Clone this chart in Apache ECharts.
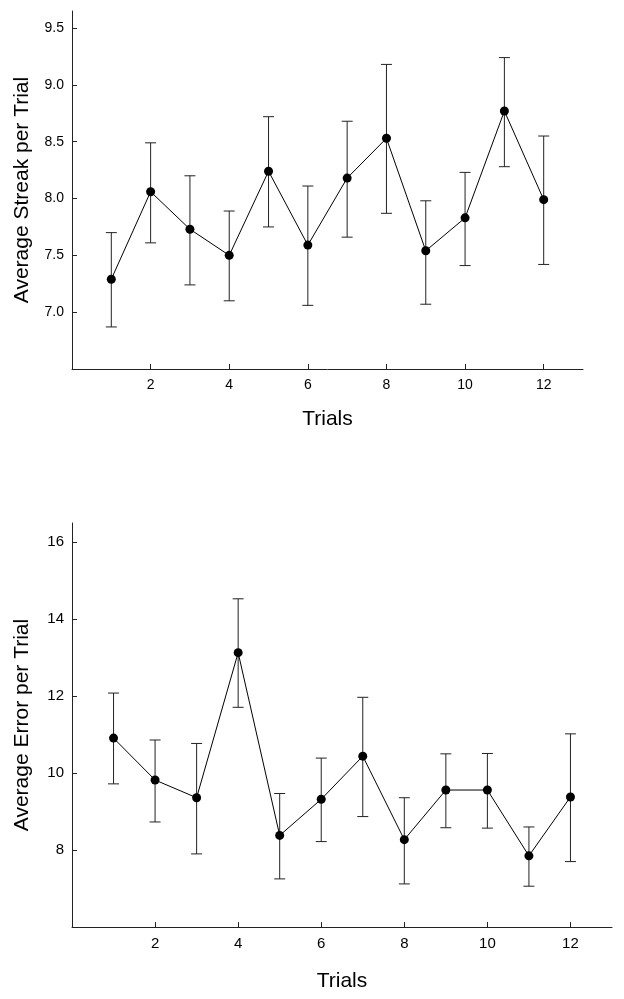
<!DOCTYPE html>
<html>
<head>
<meta charset="utf-8">
<script src="https://cdn.jsdelivr.net/npm/echarts@6/dist/echarts.min.js"></script>
<style>
html,body{margin:0;padding:0;background:#fff;}
#chart{width:624px;height:999px;}
</style>
</head>
<body>
<div id="chart"></div>
<script>
// ---- data ----
var trials = [1,2,3,4,5,6,7,8,9,10,11,12];

var streakMean  = [7.29, 8.06, 7.73, 7.50, 8.24, 7.59, 8.18, 8.53, 7.54, 7.83, 8.77, 7.99];
var streakUpper = [7.70, 8.49, 8.20, 7.89, 8.72, 8.11, 8.68, 9.18, 7.98, 8.23, 9.24, 8.55];
var streakLower = [6.87, 7.61, 7.24, 7.10, 7.75, 7.06, 7.66, 7.87, 7.07, 7.41, 8.28, 7.42];

var errorMean  = [10.91, 9.82, 9.36, 13.13, 8.38, 9.32, 10.44, 8.27, 9.56, 9.56, 7.85, 9.38];
var errorUpper = [12.08, 10.86, 10.77, 14.53, 9.47, 10.39, 11.97, 9.36, 10.50, 10.51, 8.60, 11.02];
var errorLower = [9.72, 8.73, 7.90, 11.71, 7.25, 8.22, 8.87, 7.12, 8.58, 8.57, 7.06, 7.70];

var xTickValues = [2,4,6,8,10,12];
var streakTickValues = [7.0, 7.5, 8.0, 8.5, 9.0, 9.5];
var errorTickValues = [8, 10, 12, 14, 16];

var streakTitle = 'Average Streak per Trial';
var errorTitle = 'Average Error per Trial';
var xTitle = 'Trials';

// ---- build ----
var FONT = '"Liberation Sans", Arial, sans-serif';
var AXIS_COLOR = '#222';

function pairs(xs, ys){ return xs.map(function(x,i){ return [x, ys[i]]; }); }
function triples(xs, lo, hi){ return xs.map(function(x,i){ return [x, lo[i], hi[i]]; }); }

function errorSeries(idx, data){
  return {
    type: 'custom',
    xAxisIndex: idx, yAxisIndex: idx,
    data: data,
    z: 2,
    silent: true,
    renderItem: function(params, api){
      var x = api.value(0);
      var p1 = api.coord([x, api.value(1)]);
      var p2 = api.coord([x, api.value(2)]);
      var hw = 5.5;
      var style = {stroke: '#222', lineWidth: 1, fill: null};
      return {
        type: 'group',
        children: [
          {type:'line', shape:{x1:p1[0], y1:p1[1], x2:p2[0], y2:p2[1]}, style: style},
          {type:'line', shape:{x1:p1[0]-hw, y1:p1[1], x2:p1[0]+hw, y2:p1[1]}, style: style},
          {type:'line', shape:{x1:p2[0]-hw, y1:p2[1], x2:p2[0]+hw, y2:p2[1]}, style: style}
        ]
      };
    },
    encode: {x: 0, y: [1,2]}
  };
}

function lineSeries(idx, data){
  return {
    type: 'line',
    xAxisIndex: idx, yAxisIndex: idx,
    data: data,
    z: 3,
    symbol: 'circle',
    symbolSize: 9,
    itemStyle: {color: '#000'},
    lineStyle: {color: '#000', width: 1},
    animation: false,
    silent: true
  };
}

function xAxis(idx, gap, fs){
  return {
    type: 'value', gridIndex: idx, min: 0, max: 13,
    name: xTitle, nameLocation: 'middle', nameGap: gap,
    nameTextStyle: {fontFamily: FONT, fontSize: 21, color: '#000'},
    axisLine: {show: true, onZero: false, lineStyle: {color: AXIS_COLOR, width: 1}},
    axisTick: {show: true, inside: true, length: 5, customValues: xTickValues, lineStyle: {color: AXIS_COLOR}},
    axisLabel: {show: true, customValues: xTickValues, margin: 9, fontFamily: FONT, fontSize: fs, color: '#000'},
    splitLine: {show: false}
  };
}

function yAxis(idx, min, max, ticks, title, fmt, fs){
  return {
    type: 'value', gridIndex: idx, min: min, max: max,
    name: title, nameLocation: 'middle', nameGap: 39, nameRotate: 90,
    nameTextStyle: {fontFamily: FONT, fontSize: 21, color: '#000'},
    axisLine: {show: true, onZero: false, lineStyle: {color: AXIS_COLOR, width: 1}},
    axisTick: {show: true, inside: true, length: 5, customValues: ticks, lineStyle: {color: AXIS_COLOR}},
    axisLabel: {show: true, customValues: ticks, margin: 8, fontFamily: FONT, fontSize: fs, color: '#000',
      formatter: fmt},
    splitLine: {show: false}
  };
}

var option = {
  backgroundColor: '#fff',
  animation: false,
  grid: [
    {left: 72, top: 11, width: 511, height: 358},
    {left: 72, top: 523, width: 540, height: 404}
  ],
  xAxis: [xAxis(0, 40, 14), xAxis(1, 44, 15)],
  yAxis: [
    yAxis(0, 6.5, 9.65, streakTickValues, streakTitle, function(v){ return v.toFixed(1); }, 14),
    yAxis(1, 6, 16.5, errorTickValues, errorTitle, function(v){ return String(v); }, 15)
  ],
  series: [
    errorSeries(0, triples(trials, streakLower, streakUpper)),
    lineSeries(0, pairs(trials, streakMean)),
    errorSeries(1, triples(trials, errorLower, errorUpper)),
    lineSeries(1, pairs(trials, errorMean))
  ]
};

var chart = echarts.init(document.getElementById('chart'), null, {renderer: 'canvas'});
chart.setOption(option);
</script>
</body>
</html>
